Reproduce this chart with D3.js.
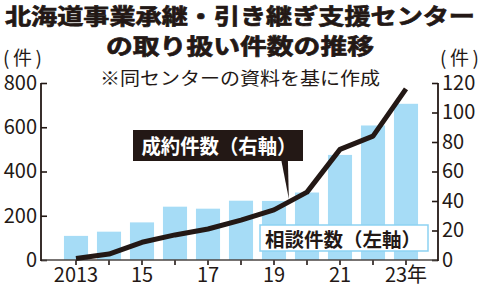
<!DOCTYPE html>
<html>
<head>
<meta charset="utf-8">
<script src="https://cdn.jsdelivr.net/npm/d3@7"></script>
<style>
  body { margin: 0; background: #fff; }
  text { font-family: "Noto Sans CJK JP", "Noto Sans", sans-serif; fill: #231815; }
</style>
</head>
<body>
<script>
var years = [2013, 2014, 2015, 2016, 2017, 2018, 2019, 2020, 2021, 2022, 2023];
var consultations = [109, 128, 170, 241, 232, 268, 267, 305, 475, 608, 706];
var contracts = [1, 4, 12, 17, 21, 27, 34, 46, 75, 84, 116];
var leftTicks = [0, 200, 400, 600, 800];
var rightTicks = [0, 20, 40, 60, 80, 100, 120];
var yearLabels = {2013: "2013", 2015: "15", 2017: "17", 2019: "19", 2021: "21", 2023: "23年"};

var WIDTH = 481;
var HEIGHT = 291;
var LEFT = 41;
var RIGHT = 438;
var TOP = 83;
var BOTTOM = 260;
var DARK = "#231815";
var BLUE = "#a6dcf6";

var translate = function (x, y) {
  return "translate(" + x + "," + y + ")";
};

var xScale = d3.scaleBand()
  .domain(years)
  .range([59.5, 422.5])
  .paddingInner(0.27)
  .paddingOuter(0.135);

var xMid = function (d) { return xScale(d) + xScale.bandwidth() / 2; };

var yLeft = d3.scaleLinear().domain([0, 800]).range([BOTTOM, TOP]);
var yRight = d3.scaleLinear().domain([0, 120]).range([BOTTOM, TOP]);

var svg = d3.select("body").append("svg")
  .attr("width", WIDTH)
  .attr("height", HEIGHT);

// title (thin stroke to get the heavy gothic look)
svg.append("text")
  .attr("x", 240).attr("y", 14)
  .attr("text-anchor", "middle").attr("dominant-baseline", "central")
  .attr("font-size", 22).attr("font-weight", "bold")
  .attr("stroke", DARK).attr("stroke-width", 0.7)
  .attr("textLength", 470).attr("lengthAdjust", "spacingAndGlyphs")
  .text("北海道事業承継・引き継ぎ支援センター");
svg.append("text")
  .attr("x", 240).attr("y", 44)
  .attr("text-anchor", "middle").attr("dominant-baseline", "central")
  .attr("font-size", 22).attr("font-weight", "bold")
  .attr("stroke", DARK).attr("stroke-width", 0.7)
  .attr("textLength", 268).attr("lengthAdjust", "spacingAndGlyphs")
  .text("の取り扱い件数の推移");
svg.append("text")
  .attr("x", 240).attr("y", 77)
  .attr("text-anchor", "middle").attr("dominant-baseline", "central")
  .attr("font-size", 18)
  .attr("textLength", 280).attr("lengthAdjust", "spacingAndGlyphs")
  .text("※同センターの資料を基に作成");

// units
svg.append("text")
  .attr("x", 3).attr("y", 56)
  .attr("dominant-baseline", "central")
  .attr("font-size", 19)
  .attr("textLength", 39).attr("lengthAdjust", "spacing")
  .text("(件)");
svg.append("text")
  .attr("x", 440).attr("y", 56)
  .attr("dominant-baseline", "central")
  .attr("font-size", 19)
  .attr("textLength", 39).attr("lengthAdjust", "spacing")
  .text("(件)");

// bars
svg.append("g").selectAll("rect")
  .data(years)
  .enter()
  .append("rect")
  .attr("x", function (d) { return xScale(d); })
  .attr("width", xScale.bandwidth())
  .attr("y", function (d, i) { return yLeft(consultations[i]); })
  .attr("height", function (d, i) { return BOTTOM - yLeft(consultations[i]); })
  .attr("fill", BLUE);

// axes
var styleAxis = function (g) {
  g.select(".domain").remove();
  g.selectAll(".tick line").attr("stroke", DARK).attr("stroke-width", 1.6);
  g.selectAll(".tick text")
    .attr("font-size", 20)
    .attr("fill", DARK)
    .style("font-family", "'Noto Sans CJK JP', sans-serif");
};

svg.append("g")
  .attr("transform", translate(LEFT, 0))
  .call(d3.axisLeft(yLeft).tickValues(leftTicks).tickSize(-6).tickPadding(4))
  .call(styleAxis);

svg.append("g")
  .attr("transform", translate(RIGHT, 0))
  .call(d3.axisRight(yRight).tickValues(rightTicks).tickSize(-6).tickPadding(4))
  .call(styleAxis);

svg.append("g")
  .attr("transform", translate(0, BOTTOM))
  .call(d3.axisBottom(xScale).tickSize(5).tickPadding(3)
    .tickFormat(function (d) { return yearLabels[d] || ""; }))
  .call(styleAxis);

svg.append("line")
  .attr("x1", LEFT).attr("x2", RIGHT)
  .attr("y1", BOTTOM).attr("y2", BOTTOM)
  .attr("stroke", "#4a4542").attr("stroke-width", 1.6);
svg.append("line")
  .attr("x1", LEFT).attr("x2", LEFT)
  .attr("y1", TOP).attr("y2", BOTTOM + 1)
  .attr("stroke", DARK).attr("stroke-width", 1.8);
svg.append("line")
  .attr("x1", RIGHT).attr("x2", RIGHT)
  .attr("y1", TOP).attr("y2", BOTTOM + 1)
  .attr("stroke", DARK).attr("stroke-width", 1.8);

// left-axis legend box
svg.append("rect")
  .attr("x", 260).attr("y", 225)
  .attr("width", 168).attr("height", 26)
  .attr("fill", "#fff")
  .attr("stroke", "#8dd2f2").attr("stroke-width", 1.5);
svg.append("text")
  .attr("x", 343).attr("y", 238.5)
  .attr("text-anchor", "middle").attr("dominant-baseline", "central")
  .attr("font-size", 19).attr("font-weight", "bold")
  .attr("textLength", 156).attr("lengthAdjust", "spacingAndGlyphs")
  .text("相談件数（左軸）");

// contracts line
var line = d3.line()
  .x(function (d, i) { return xMid(years[i]); })
  .y(function (d) { return yRight(d); });

svg.append("path")
  .attr("d", line(contracts))
  .attr("fill", "none")
  .attr("stroke", DARK)
  .attr("stroke-width", 5)
  .attr("stroke-linejoin", "round");

// right-axis callout
var tipX = xMid(2019) + 0.45 * xScale.step();
var tipY = yRight(contracts[6] + 0.45 * (contracts[7] - contracts[6])) - 3;

svg.append("path")
  .attr("d", "M" + (tipX - 8) + ",158 L" + (tipX - 1) + ",158 L" + tipX + "," + tipY + "Z")
  .attr("fill", DARK);
svg.append("rect")
  .attr("x", 133).attr("y", 130)
  .attr("width", 170).attr("height", 31)
  .attr("fill", DARK);
svg.append("text")
  .attr("x", 219).attr("y", 145.5)
  .attr("text-anchor", "middle").attr("dominant-baseline", "central")
  .attr("font-size", 20).attr("font-weight", "bold")
  .attr("textLength", 155).attr("lengthAdjust", "spacingAndGlyphs")
  .style("fill", "#fff")
  .text("成約件数（右軸）");
</script>
</body>
</html>
